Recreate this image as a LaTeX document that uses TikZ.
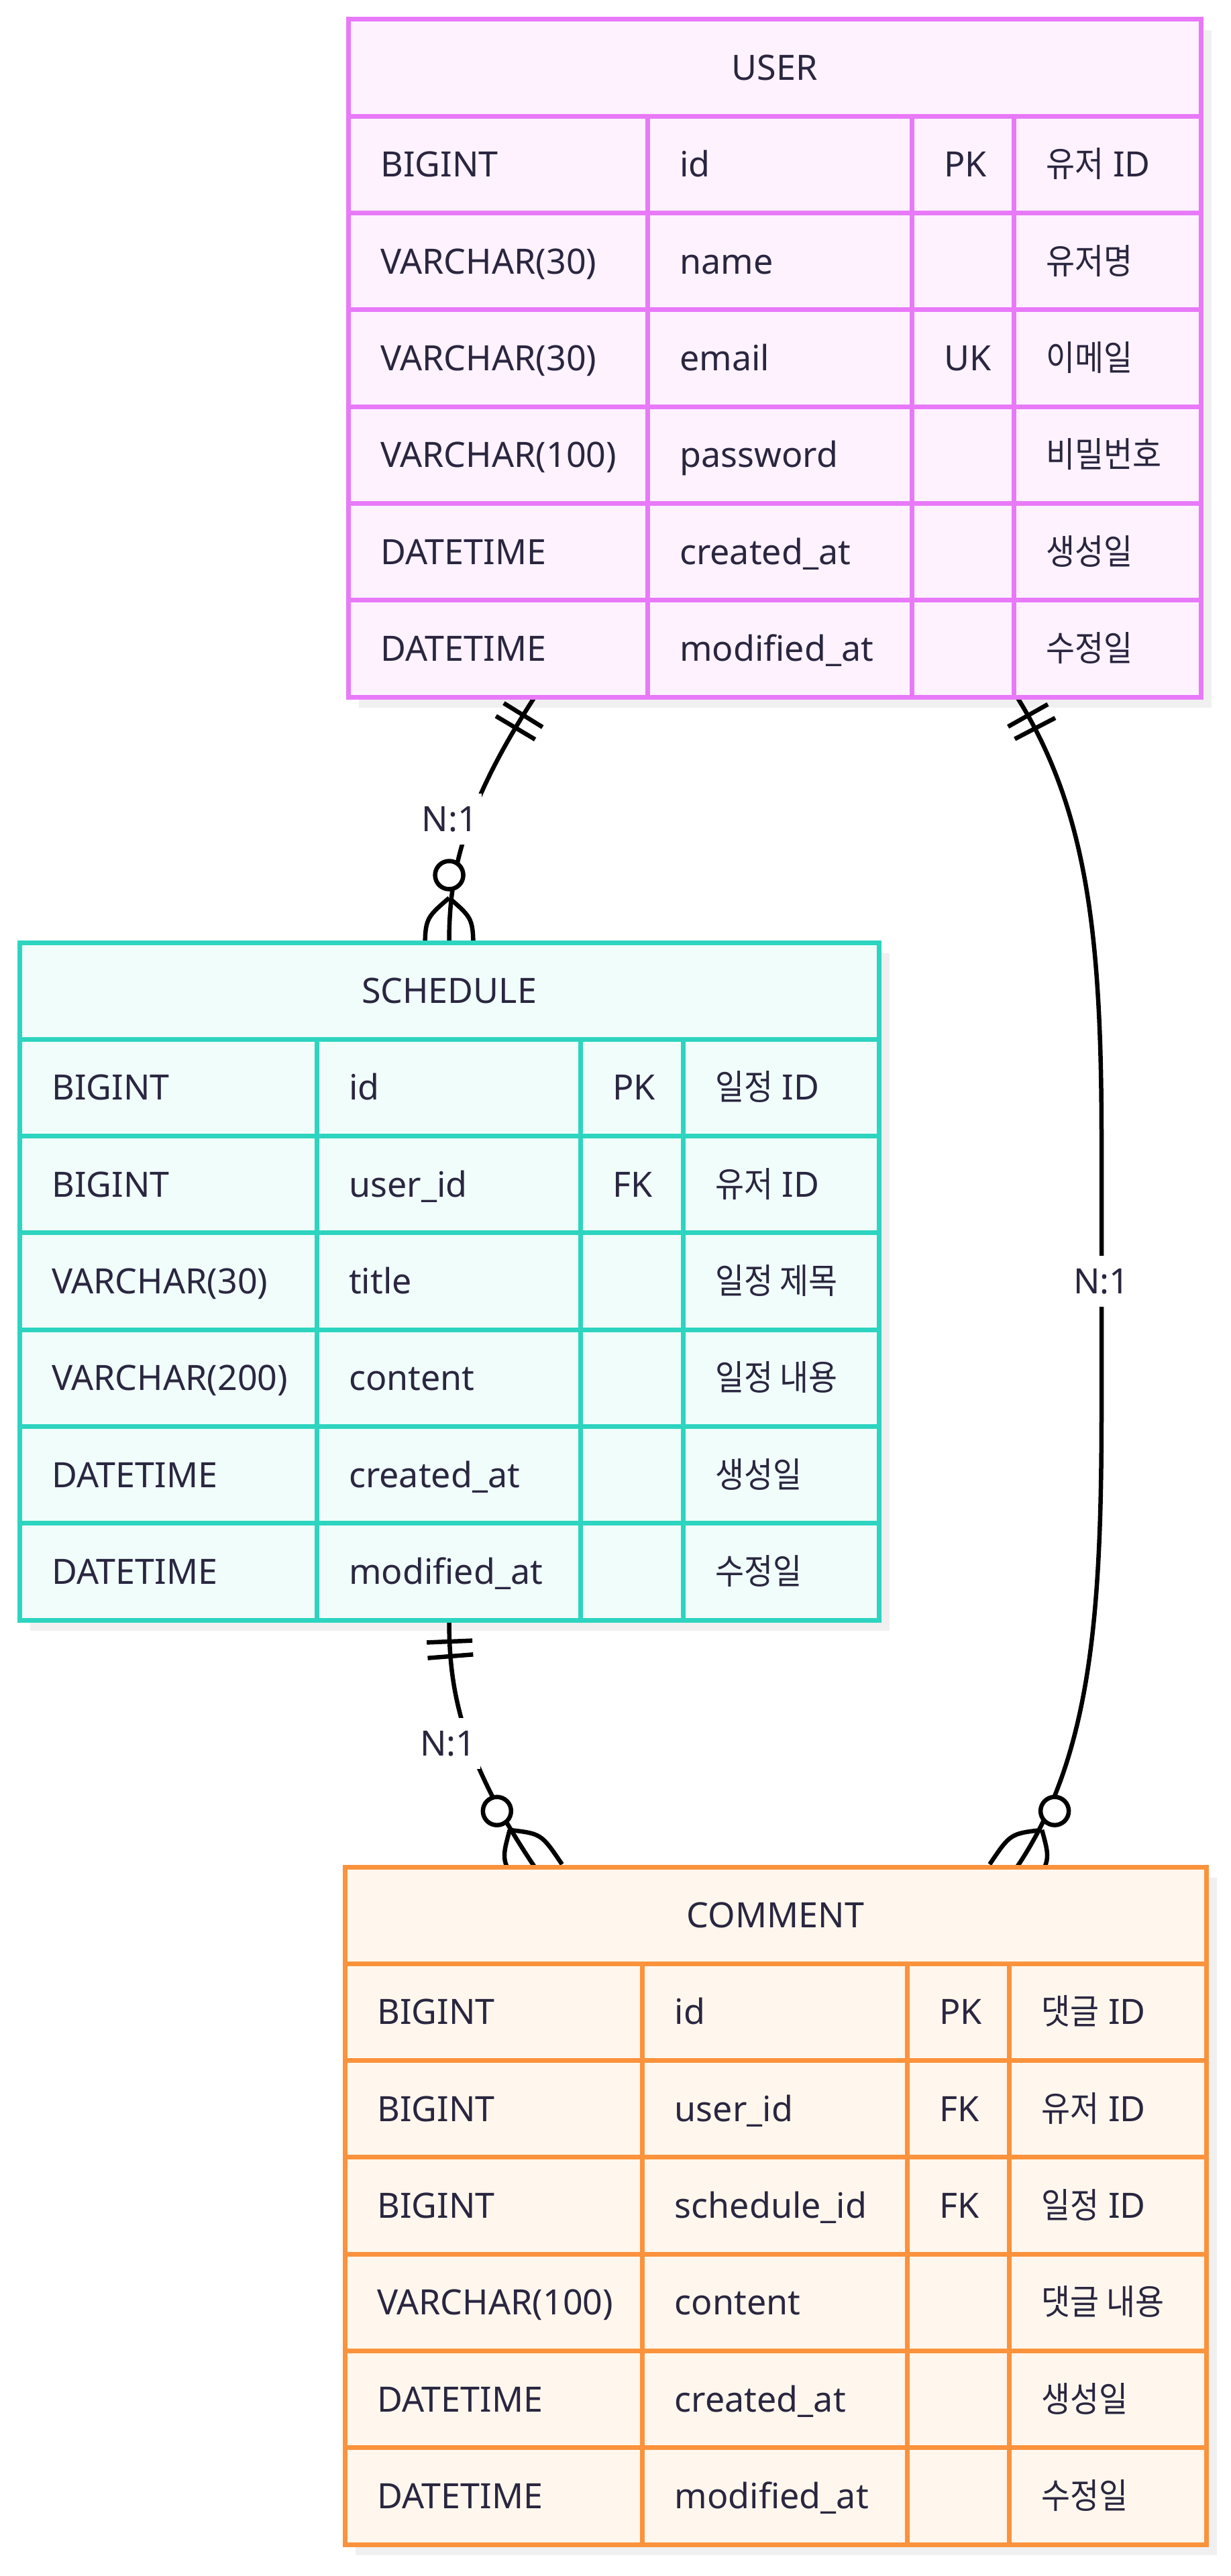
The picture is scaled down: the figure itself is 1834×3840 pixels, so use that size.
\documentclass[tikz,border=0pt]{standalone}
\usepackage{fontspec}
\setmainfont{Noto Sans}
\newfontfamily\kr{Noto Sans CJK KR}[FakeStretch=0.9]
\usetikzlibrary{decorations.markings}

\definecolor{txt}{HTML}{2A2640}
\definecolor{usrbdc}{HTML}{E879F9}
\definecolor{usrbgc}{HTML}{FDF2FE}
\definecolor{schbdc}{HTML}{2DD4BF}
\definecolor{schbgc}{HTML}{F0FDFA}
\definecolor{cmtbdc}{HTML}{FB923C}
\definecolor{cmtbgc}{HTML}{FFF7ED}
\definecolor{shadowc}{HTML}{F0F0F0}

\tikzset{
  celltext/.style={anchor=west, inner sep=0pt, text height=37pt, text depth=0pt,
    font=\fontsize{52}{62}\selectfont, text=txt},
  tshadow/.style={fill=shadowc},
  usrbg/.style={fill=usrbgc}, usrline/.style={draw=usrbdc, line width=7pt},
  schbg/.style={fill=schbgc}, schline/.style={draw=schbdc, line width=7pt},
  cmtbg/.style={fill=cmtbgc}, cmtline/.style={draw=cmtbdc, line width=7pt},
  rel/.style={draw=black, line width=6.5pt},
  rellabel/.style={fill=white, font=\fontsize{52}{62}\selectfont, text=txt,
    inner xsep=6pt, inner ysep=0pt, text height=37pt, text depth=0pt, minimum height=76pt},
  startone/.style={postaction={decorate, decoration={markings,
      mark=at position 32pt with {\draw[line width=6.5pt] (0,-34) -- (0,34);},
      mark=at position 54pt with {\draw[line width=6.5pt] (0,-34) -- (0,34);}}}},
  endmany/.style={postaction={decorate, decoration={markings,
      mark=at position -0.5pt with {
        \draw[line width=6.5pt] (-66,0) .. controls (-35,36) .. (20,36);
        \draw[line width=6.5pt] (-66,0) .. controls (-35,-36) .. (20,-36);
        \draw[line width=6.5pt, fill=white] (-100,0) circle (21);}}}},
}

\def\rowh{144.3}

% shadow: #1 x0, #2 xr, #3 y0
\newcommand{\ershadow}[3]{%
  \pgfmathsetmacro\ybot{#3+7*\rowh}%
  \fill[tshadow] (#1+16,#3+16) rectangle (#2+16,\ybot+16);
}

% #1 name/title, #2 x0, #3 c1, #4 c2, #5 c3, #6 xr, #7 y0, #8 style prefix, #9 rows
\newcommand{\ertable}[9]{%
  \pgfmathsetmacro\ybot{#7+7*\rowh}%
  \fill[#8bg] (#2,#7) rectangle (#6,\ybot);
  \foreach \k in {1,...,6}{\draw[#8line] (#2,#7+\k*\rowh) -- (#6,#7+\k*\rowh);}
  \foreach \xx in {#3,#4,#5}{\draw[#8line] (\xx,#7+\rowh) -- (\xx,\ybot);}
  \draw[#8line] (#2,#7) rectangle (#6,\ybot);
  \node[celltext,anchor=center] (#1-title) at ({(#2+#6)/2},#7+0.5*\rowh) {#1};
  \foreach \ca/\cb/\cc/\cd [count=\k] in #9 {%
    \pgfmathsetmacro\yc{#7+(\k+0.5)*\rowh}
    \node[celltext] (#1-\k-type) at (#2+48,\yc) {\ca};
    \node[celltext] (#1-\k-name) at (#3+48,\yc) {\cb};
    \node[celltext] (#1-\k-key) at (#4+48,\yc) {\cc};
    \node[celltext] (#1-\k-desc) at (#5+48,\yc) {\cd};
  }%
}

\def\userrows{BIGINT/id/PK/{{\kr 유저} ID},
 VARCHAR(30)/name//{\kr 유저명},
 VARCHAR(30)/email/UK/{\kr 이메일},
 VARCHAR(100)/password//{\kr 비밀번호},
 DATETIME/created\_at//{\kr 생성일},
 DATETIME/modified\_at//{\kr 수정일}}

\def\schedrows{BIGINT/id/PK/{{\kr 일정} ID},
 BIGINT/user\_id/FK/{{\kr 유저} ID},
 VARCHAR(30)/title//{\kr 일정 제목},
 VARCHAR(200)/content//{\kr 일정 내용},
 DATETIME/created\_at//{\kr 생성일},
 DATETIME/modified\_at//{\kr 수정일}}

\def\commentrows{BIGINT/id/PK/{{\kr 댓글} ID},
 BIGINT/user\_id/FK/{{\kr 유저} ID},
 BIGINT/schedule\_id/FK/{{\kr 일정} ID},
 VARCHAR(100)/content//{\kr 댓글 내용},
 DATETIME/created\_at//{\kr 생성일},
 DATETIME/modified\_at//{\kr 수정일}}

\begin{document}
\begin{tikzpicture}[x=1pt,y=-1pt]
\useasboundingbox (0,0) rectangle (1834,3840);
\fill[white] (0,0) rectangle (1834,3840);

% shadows
\ershadow{519}{1790}{29}
\ershadow{29}{1310}{1405}
\ershadow{514}{1798}{2783}

% connector end points
\coordinate (u-s) at (797,1039);
\coordinate (u-c) at (1516,1039);
\coordinate (s-top) at (669.5,1405);
\coordinate (s-bot) at (669.5,2415);
\coordinate (c-s) at (797,2783);
\coordinate (c-u) at (1516,2783);
\coordinate (m-a) at (1642,1700);
\coordinate (m-b) at (1642,2100);

% USER -> SCHEDULE
\draw[rel,startone,endmany] (u-s) .. controls +(-109,168) and +(0,-100) .. (s-top);
% SCHEDULE -> COMMENT
\draw[rel,startone,endmany] (s-bot) .. controls +(0,100) and +(-112,-166) .. (c-s);
% USER -> COMMENT
\draw[rel,startone,endmany] (u-c) .. controls +(106,170) and +(0,-300) .. (m-a) -- (m-b)
   .. controls +(0,300) and +(112,-166) .. (c-u);

% tables
\ertable{USER}{519}{965}{1359}{1511.5}{1790}{29}{usr}{\userrows}
\ertable{SCHEDULE}{29}{472}{865}{1018}{1310}{1405}{sch}{\schedrows}
\ertable{COMMENT}{514}{957.5}{1352}{1504.5}{1798}{2783}{cmt}{\commentrows}

% relationship labels
\node[rellabel] (lab1) at (670.5,1221) {N:1};
\node[rellabel] (lab2) at (668,2599) {N:1};
\node[rellabel] (lab3) at (1642,1910) {N:1};
\end{tikzpicture}
\end{document}
